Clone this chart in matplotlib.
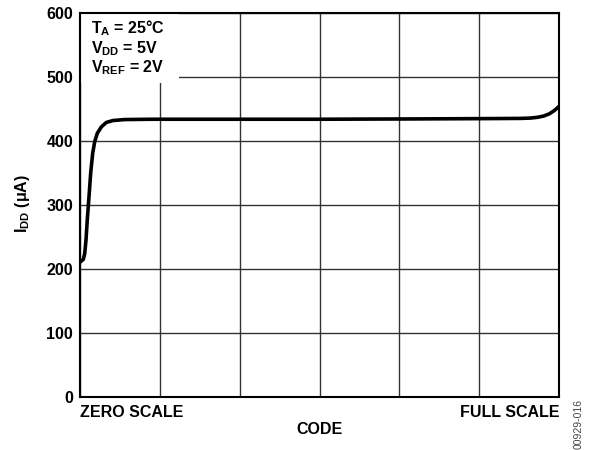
import numpy as np
import matplotlib
matplotlib.use('Agg')
import matplotlib.pyplot as plt
from matplotlib.patches import Rectangle

plt.rcParams['font.family'] = ['Liberation Sans', 'DejaVu Sans']
plt.rcParams['mathtext.fontset'] = 'custom'
plt.rcParams['mathtext.bf'] = 'Liberation Sans:bold'
plt.rcParams['mathtext.rm'] = 'Liberation Sans:bold'

# code as fraction of full scale, supply current in uA
code = [0.002, 0.0069, 0.0098, 0.0125, 0.0152, 0.0188, 0.0223, 0.0265,
        0.0307, 0.0361, 0.0445, 0.0549, 0.0689, 0.0933, 0.15, 0.3, 0.5,
        0.7, 0.85, 0.9186, 0.94, 0.955, 0.968, 0.98, 0.99, 1.0]
idd = [212, 215, 224, 245, 277, 313, 350, 381,
       399, 412, 422, 429, 432, 433.5, 434, 434, 434,
       434.5, 435, 435.3, 435.8, 437, 439, 442.5, 447.5, 454]

fs = 11.5
fig = plt.figure(figsize=(6.02, 4.5), dpi=100)
ax = fig.add_axes([80/602, 53/450, 479/602, 384/450])

ax.set_xlim(0, 1)
ax.set_ylim(0, 600)
ax.set_xticks(np.linspace(0, 1, 7))
ax.set_yticks(range(0, 601, 100))
ax.grid(True, color='#333333', linewidth=1.0)
ax.set_axisbelow(True)
ax.tick_params(length=0, pad=5, labelsize=fs)
ax.set_xticklabels([])
for lab in ax.get_yticklabels():
    lab.set_fontweight('bold')
for sp in ax.spines.values():
    sp.set_linewidth(1.5)
    sp.set_zorder(5)

# white box behind the conditions text
ax.add_patch(Rectangle((0, 490), 99/479, 110, facecolor='white',
                       edgecolor='none', zorder=2))

ax.plot(code, idd, color='black', linewidth=2.6, zorder=4)

txt = dict(transform=ax.transAxes, fontsize=fs, fontweight='bold',
           va='center', ha='left', zorder=6)
ax.text(0.022, 0.96, r'T$_\mathbf{A}$ = 25°C', **txt)
ax.text(0.022, 0.908, r'V$_\mathbf{DD}$ = 5V', **txt)
ax.text(0.022, 0.858, r'V$_\mathbf{REF}$ = 2V', **txt)

ax.text(0, -0.04, 'ZERO SCALE', transform=ax.transAxes, fontsize=fs,
        fontweight='bold', ha='left', va='center')
ax.text(1, -0.04, 'FULL SCALE', transform=ax.transAxes, fontsize=fs,
        fontweight='bold', ha='right', va='center')
fig.text((80 + 559) / 2 / 602, 1 - 430/450, 'CODE', fontsize=fs,
         fontweight='bold', ha='center', va='center')
fig.text(22/602, 1 - 204/450, r'I$_\mathbf{DD}$ ($\mathbf{\mu}$A)', rotation=90,
         fontsize=fs, fontweight='bold', ha='center', va='center')

fig.text(579/602, 1 - 399/450, '00929-016', rotation=90, fontsize=7.5,
         color='#444444', ha='center', va='top')

fig.savefig('out.png', dpi=100)
